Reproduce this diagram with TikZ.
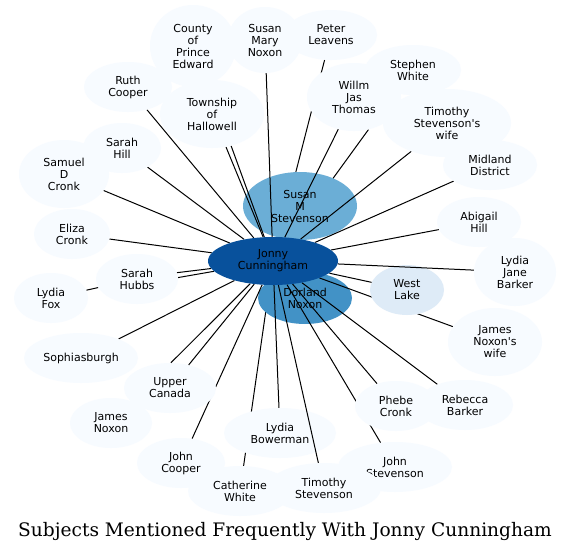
\documentclass[tikz,border=0pt]{standalone}
\usepackage{fontspec}
\usetikzlibrary{shapes.geometric}
\newfontfamily\nodefont{DejaVu Sans}
\newfontfamily\titlefont{DejaVu Serif}
\definecolor{lightc}{HTML}{F7FBFF}
\definecolor{midc}{HTML}{6BAED6}
\definecolor{dnc}{HTML}{4292C6}
\definecolor{darkc}{HTML}{08519C}
\definecolor{wlc}{HTML}{DEEBF7}
\pgfdeclarelayer{bg}
\pgfdeclarelayer{la}\pgfdeclarelayer{lb}\pgfdeclarelayer{lc}
\pgfdeclarelayer{ld}\pgfdeclarelayer{le}\pgfdeclarelayer{lf}
\pgfsetlayers{bg,la,lb,lc,ld,le,lf,main}
\tikzset{
  nd/.style={ellipse, inner sep=0pt, align=center, fill=lightc, draw=none,
    font=\nodefont\fontsize{11}{12}\selectfont},
  ed/.style={draw=black, line width=1pt},
  sz/.style 2 args={minimum width=#1pt, minimum height=#2pt}
}
\begin{document}
\begin{tikzpicture}[x=1pt,y=-1pt]
\begin{pgfonlayer}{bg}
\fill[white] (0,0) rectangle (571,552);
\end{pgfonlayer}
\useasboundingbox (0,0) rectangle (571,552);

% medium nodes
\begin{pgfonlayer}{lb}
\node[nd, sz={114}{68}, fill=midc] (sms) at (300,206) {Susan\\M\\Stevenson};
\node[nd, sz={94}{52}, fill=dnc] (dn) at (305,298) {Dorland\\Noxon};
\end{pgfonlayer}
\begin{pgfonlayer}{ld}
\node[nd, sz={92}{50}] (uc) at (170,388) {Upper\\Canada};
\node[nd, sz={82}{50}] (pc) at (396,406) {Phebe\\Cronk};
\node[nd, sz={74}{50}, fill=wlc] (wl) at (407,290) {West\\Lake};
\node[nd, sz={94}{68}] (wjt) at (354,97) {Willm\\Jas\\Thomas};
\node[nd, sz={112}{50}] (lb) at (280,433) {Lydia\\Bowerman};
\end{pgfonlayer}
\begin{pgfonlayer}{lf}
\node[nd, sz={130}{48}, fill=darkc] (j) at (273,261) {Jonny\\Cunningham};
\end{pgfonlayer}

% light nodes
\node[nd, sz={86}{82}] (cpe) at (193,46) {County\\of\\Prince\\Edward};
\node[nd, sz={74}{66}] (smn) at (265,40) {Susan\\Mary\\Noxon};
\node[nd, sz={92}{50}] (pl) at (331,35) {Peter\\Leavens};
\node[nd, sz={88}{50}] (rc) at (128,87) {Ruth\\Cooper};
\node[nd, sz={104}{68}] (th) at (212,114) {Township\\of\\Hallowell};
\node[nd, sz={96}{50}] (sw) at (413,70) {Stephen\\White};
\node[nd, sz={128}{68}] (tsw) at (447,123) {Timothy\\Stevenson's\\wife};
\node[nd, sz={78}{50}] (sh) at (122,148) {Sarah\\Hill};
\node[nd, sz={90}{68}] (sdc) at (64,174) {Samuel\\D\\Cronk};
\node[nd, sz={94}{50}] (md) at (490,165) {Midland\\District};
\node[nd, sz={76}{50}] (ec) at (72,234) {Eliza\\Cronk};
\node[nd, sz={84}{50}] (ah) at (479,222) {Abigail\\Hill};
\node[nd, sz={82}{50}] (shu) at (137,279) {Sarah\\Hubbs};
\node[nd, sz={82}{68}] (ljb) at (515,272) {Lydia\\Jane\\Barker};
\node[nd, sz={74}{50}] (lf) at (51,298) {Lydia\\Fox};
\node[nd, sz={94}{68}] (jnw) at (495,342) {James\\Noxon's\\wife};
\node[nd, sz={114}{50}] (so) at (81,358) {Sophiasburgh};
\node[nd, sz={82}{50}] (jn) at (111,423) {James\\Noxon};
\node[nd, sz={96}{50}] (rb) at (465,405) {Rebecca\\Barker};
\node[nd, sz={88}{50}] (jc) at (181,463) {John\\Cooper};
\node[nd, sz={104}{50}] (cw) at (240,491) {Catherine\\White};
\node[nd, sz={114}{50}] (js) at (395,467) {John\\Stevenson};
\node[nd, sz={114}{50}] (ts) at (324,488) {Timothy\\Stevenson};

% edges
\begin{pgfonlayer}{la}
\draw[ed] (j) -- (cw);
\draw[ed] (j) -- (pl);
\draw[ed] (j) -- (wjt.-66);
\end{pgfonlayer}
\begin{pgfonlayer}{lc}
\draw[ed] (j) -- (jc);
\draw[ed] (j) -- (js);
\draw[ed] (j) -- (jnw);
\end{pgfonlayer}
\begin{pgfonlayer}{le}
\draw[ed] (j) -- (rc);
\draw[ed] (j) -- (th.-67);
\draw[ed] (j) -- (th.-59);
\draw[ed] (j) -- (smn);
\draw[ed] (j) -- (sh);
\draw[ed] (j) -- (sdc);
\draw[ed] (j) -- (ec);
\draw[ed] (j) -- (shu.9);
\draw[ed] (j) -- (shu.2);
\draw[ed] (shu) -- (lf);
\draw[ed] (j) -- (so);
\draw[ed] (j) -- (uc.88);
\draw[ed] (j) -- (uc.51);
\draw[ed] (j) -- (lb);
\draw[ed] (j) -- (ts);
\draw[ed] (j) -- (pc);
\draw[ed] (j) -- (rb);
\draw[ed] (j) -- (wl);
\draw[ed] (j) -- (ljb);
\draw[ed] (j) -- (ah);
\draw[ed] (j) -- (md);
\draw[ed] (j) -- (tsw);
\draw[ed] (j) -- (wjt.-116);
\end{pgfonlayer}

\node[anchor=base, font=\titlefont\fontsize{18.6}{20}\selectfont] (title) at (285,536)
  {Subjects Mentioned Frequently With Jonny Cunningham};
\end{tikzpicture}
\end{document}
